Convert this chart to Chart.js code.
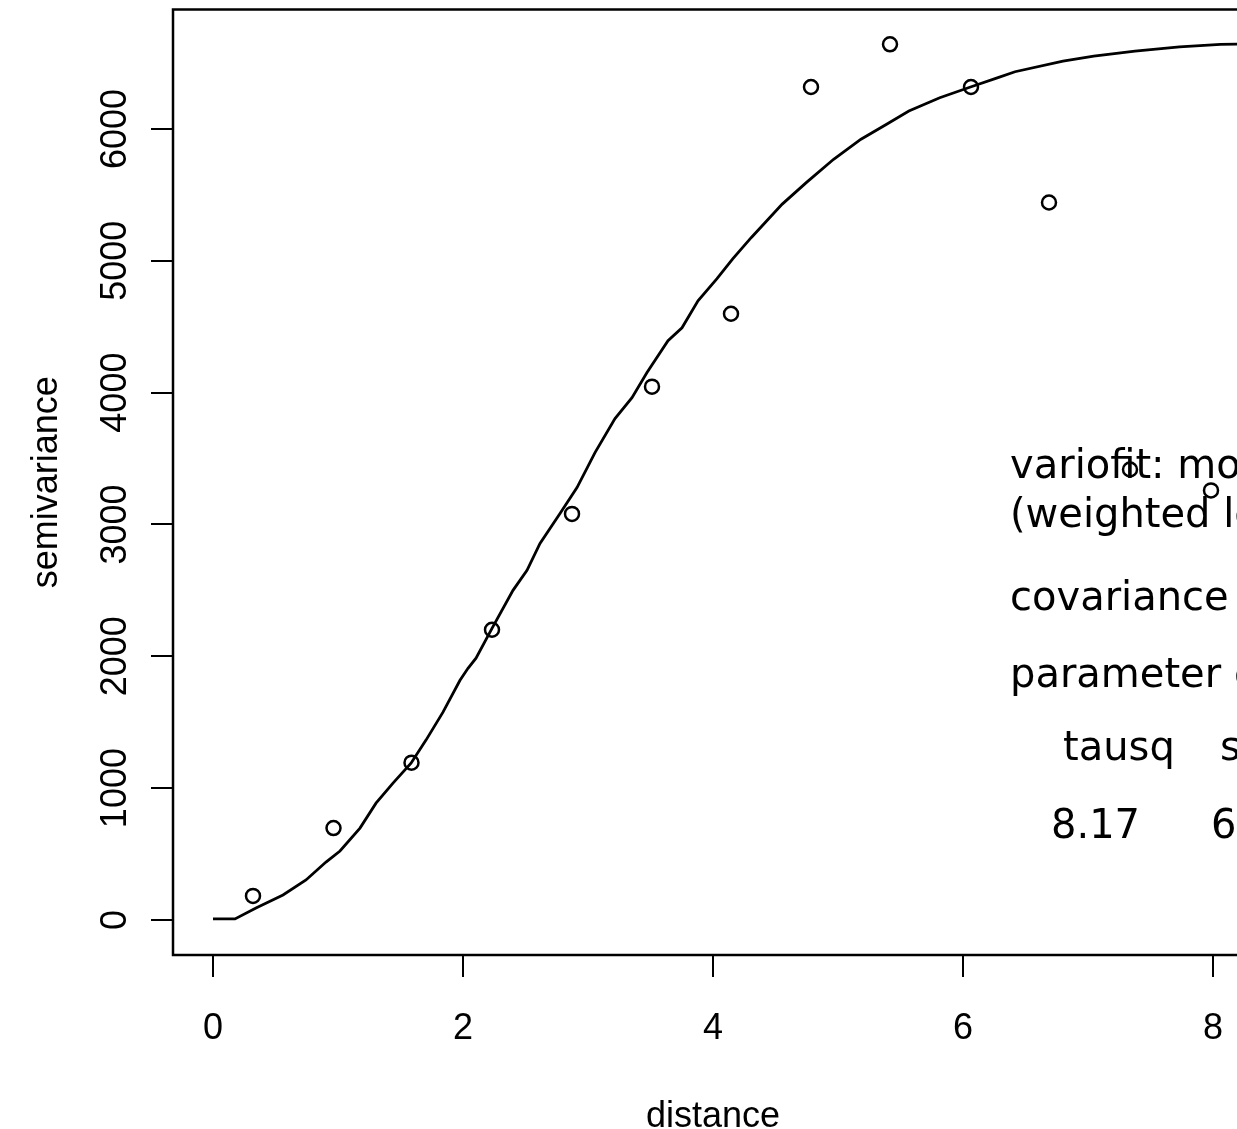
<!DOCTYPE html>
<html><head><meta charset="utf-8">
<script src="https://cdn.jsdelivr.net/npm/chart.js@4.4.1/dist/chart.umd.min.js"></script>
<style>
html,body{margin:0;padding:0;overflow:hidden;background:#fff;width:1237px;height:1129px}
#wrap{position:absolute;left:0;top:0;width:1400px;height:1129px}
</style>
</head><body><div id="wrap"><canvas id="c" width="1400" height="1129"></canvas></div>
<script>
// empirical variogram (binned semivariance)
const distance = [0.32, 0.964, 1.588, 2.232, 2.872, 3.512, 4.144, 4.784, 5.416, 6.064, 6.688, 7.336, 7.984];
const semivariance = [182, 697, 1193, 2201, 3080, 4045, 4598, 6318, 6642, 6318, 5442, 3417, 3258];

// fitted model line
const fitDistance = [0, 0.176, 0.344, 0.56, 0.744, 0.904, 1.016, 1.176, 1.304, 1.44, 1.584, 1.704, 1.84, 1.976, 2.04, 2.104, 2.232, 2.4, 2.512, 2.616, 2.776, 2.912, 3.056, 3.216, 3.352, 3.472, 3.64, 3.752, 3.88, 4.032, 4.156, 4.307, 4.554, 4.746, 4.965, 5.184, 5.389, 5.567, 5.814, 6.06, 6.28, 6.416, 6.8, 7.046, 7.376, 7.732, 8.06, 8.32];
const fitSemivariance = [8, 8, 91, 189, 303, 439, 523, 697, 886, 1038, 1189, 1364, 1576, 1818, 1909, 1985, 2212, 2500, 2652, 2856, 3083, 3280, 3545, 3803, 3962, 4152, 4394, 4492, 4697, 4864, 5013, 5177, 5430, 5593, 5770, 5922, 6036, 6136, 6237, 6318, 6389, 6434, 6515, 6553, 6591, 6623, 6642, 6645];

const xTicks = [0, 2, 4, 6, 8];
const yTicks = [0, 1000, 2000, 3000, 4000, 5000, 6000];

const xTitle = "distance";
const yTitle = "semivariance";

const infoLines = ["variofit: model parameters estimated by WLS", "(weighted least squares):", "covariance model is: cubic", "parameter estimates:"];
const paramNames = ["tausq", "sigmasq", "phi"];
const paramValues = ["8.17", "6637.28", "8.30"];

const AX_FONT = '36px "Liberation Sans", Arial, sans-serif';
const INFO_FONT = '40px "DejaVu Sans", sans-serif';

const decor = {
  id: 'decor',
  afterDraw(chart) {
    const ctx = chart.ctx, a = chart.chartArea;
    const xs = chart.scales.x, ys = chart.scales.y;
    ctx.save();
    ctx.strokeStyle = '#000';
    ctx.lineWidth = 2.5;
    ctx.strokeRect(a.left, a.top, a.right - a.left, a.bottom - a.top);
    ctx.fillStyle = '#000';
    ctx.font = AX_FONT;
    ctx.textAlign = 'center';
    ctx.textBaseline = 'alphabetic';
    xTicks.forEach(v => ctx.fillText(String(v), xs.getPixelForValue(v), 1039));
    yTicks.forEach(v => {
      ctx.save();
      ctx.translate(126, ys.getPixelForValue(v));
      ctx.rotate(-Math.PI / 2);
      ctx.fillText(String(v), 0, 0);
      ctx.restore();
    });
    ctx.fillText(xTitle, (a.left + a.right) / 2, 1127);
    ctx.save();
    ctx.translate(57, (a.top + a.bottom) / 2);
    ctx.rotate(-Math.PI / 2);
    ctx.fillText(yTitle, 0, 0);
    ctx.restore();

    ctx.font = INFO_FONT;
    ctx.textAlign = 'left';
    const base = [478, 527, 610, 687];
    infoLines.forEach((t, i) => ctx.fillText(t, 1010, base[i]));
    const nameX = [1063, 1220, 1420];
    const valX = [1051, 1211, 1410];
    paramNames.forEach((t, i) => ctx.fillText(t, nameX[i], 760));
    paramValues.forEach((t, i) => ctx.fillText(t, valX[i], 838));
    ctx.restore();
  }
};

new Chart(document.getElementById('c'), {
  type: 'scatter',
  data: {
    datasets: [
      {
        data: distance.map((d, i) => ({x: d, y: semivariance[i]})),
        pointStyle: 'circle',
        pointRadius: 7,
        pointBorderWidth: 2.5,
        borderColor: '#000',
        pointBorderColor: '#000',
        backgroundColor: 'rgba(0,0,0,0)',
        pointBackgroundColor: 'rgba(0,0,0,0)',
        showLine: false
      },
      {
        data: fitDistance.map((d, i) => ({x: d, y: fitSemivariance[i]})),
        showLine: true,
        borderColor: '#000',
        borderWidth: 2.8,
        pointRadius: 0,
        tension: 0,
        fill: false
      }
    ]
  },
  options: {
    responsive: false,
    animation: false,
    devicePixelRatio: 1,
    layout: {padding: {left: 0, top: 8, right: 147, bottom: 0}},
    plugins: {legend: {display: false}, tooltip: {enabled: false}},
    scales: {
      x: {
        type: 'linear', min: -0.32, max: 8.32,
        afterBuildTicks: s => { s.ticks = xTicks.map(v => ({value: v})); },
        afterFit: s => { s.height = 174; },
        ticks: {display: false},
        grid: {drawOnChartArea: false, drawTicks: true, tickLength: 22, color: '#000', lineWidth: 2},
        border: {display: false}
      },
      y: {
        type: 'linear', min: -266, max: 6906,
        afterBuildTicks: s => { s.ticks = yTicks.map(v => ({value: v})); },
        afterFit: s => { s.width = 173; },
        ticks: {display: false},
        grid: {drawOnChartArea: false, drawTicks: true, tickLength: 22, color: '#000', lineWidth: 2},
        border: {display: false}
      }
    }
  },
  plugins: [decor]
});
</script></body></html>
